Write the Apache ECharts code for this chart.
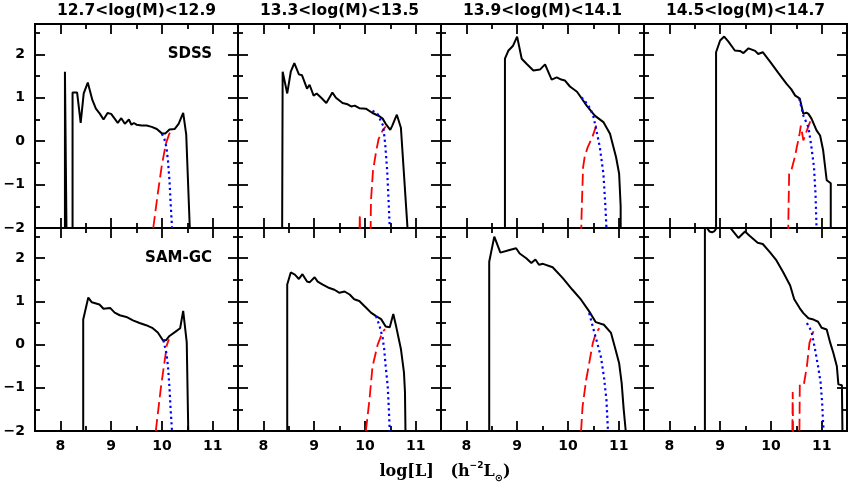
<!DOCTYPE html>
<html><head><meta charset="utf-8">
<script src="https://cdn.jsdelivr.net/npm/echarts@6/dist/echarts.min.js"></script>
<style>html,body{margin:0;padding:0;background:#fff}#c{width:849px;height:485px}</style>
</head><body><div id="c"></div>
<script>
// ---------- DATA ----------
const panelTitles = ['12.7<log(M)<12.9', '13.3<log(M)<13.5', '13.9<log(M)<14.1', '14.5<log(M)<14.7'];
const rowLabels = ['SDSS', 'SAM-GC'];
const xMajorTicks = [8, 9, 10, 11];
const xMinorTicks = [8.5, 9.5, 10.5];
const yMajorTicks = [-2, -1, 0, 1, 2];
const yMinorTicks = [-1.5, -0.5, 0.5, 1.5, 2.5];
const xRange = [7.5, 11.5];
const yRange = [-2, 2.7];

// SDSS row
const sdss1_total = [[8.09,-2],[8.09,1.6],[8.12,-2],[8.24,-2],[8.24,1.12],[8.33,1.12],[8.4,0.42],[8.46,1.1],[8.54,1.35],[8.63,0.95],[8.7,0.75],[8.78,0.63],[8.85,0.5],[8.93,0.65],[9.0,0.63],[9.07,0.52],[9.13,0.42],[9.2,0.53],[9.27,0.4],[9.35,0.5],[9.4,0.38],[9.45,0.42],[9.5,0.38],[9.6,0.36],[9.7,0.36],[9.8,0.33],[9.9,0.28],[10.0,0.18],[10.07,0.18],[10.15,0.27],[10.25,0.28],[10.33,0.4],[10.42,0.65],[10.48,0.15],[10.55,-2]];
const sdss1_red = [[9.83,-2],[9.92,-1.2],[10.0,-0.55],[10.08,-0.05],[10.14,0.15],[10.19,0.27]];
const sdss1_blue = [[10.0,0.17],[10.05,0.05],[10.09,-0.14],[10.12,-0.45],[10.15,-0.91],[10.17,-1.37],[10.2,-2]];

const sdss2_total = [[8.37,-2],[8.38,1.6],[8.47,1.1],[8.54,1.6],[8.61,1.8],[8.7,1.54],[8.76,1.52],[8.86,1.21],[8.91,1.3],[8.99,1.05],[9.05,1.1],[9.14,1.0],[9.24,0.88],[9.36,1.12],[9.43,1.0],[9.56,0.88],[9.66,0.85],[9.73,0.8],[9.8,0.82],[9.89,0.76],[10.02,0.75],[10.15,0.65],[10.28,0.58],[10.35,0.52],[10.41,0.4],[10.5,0.26],[10.54,0.36],[10.63,0.61],[10.71,0.31],[10.84,-2]];
const sdss2_red = [[9.89,-2.4],[9.9,-1.68],[9.91,-2.4],[10.11,-2.4],[10.12,-1.37],[10.16,-0.68],[10.22,-0.25],[10.27,0.05],[10.35,0.25],[10.41,0.34]];
const sdss2_blue = [[10.15,0.7],[10.25,0.63],[10.32,0.45],[10.36,0.36],[10.4,-0.06],[10.44,-0.68],[10.47,-1.44],[10.49,-2]];

const sdss3_total = [[8.76,-2],[8.76,1.9],[8.83,2.09],[8.92,2.2],[9.0,2.41],[9.09,1.9],[9.19,1.78],[9.32,1.63],[9.45,1.65],[9.55,1.77],[9.68,1.42],[9.78,1.47],[9.87,1.42],[9.94,1.4],[10.04,1.26],[10.18,1.14],[10.27,0.99],[10.37,0.82],[10.53,0.59],[10.7,0.44],[10.83,0.17],[10.95,-0.37],[11.01,-0.75],[11.04,-1.5],[11.04,-2]];
const sdss3_red = [[10.26,-2.2],[10.27,-1.7],[10.28,-1.3],[10.29,-0.95],[10.3,-0.6],[10.33,-0.37],[10.39,-0.14],[10.48,0.09],[10.56,0.36]];
const sdss3_blue = [[10.27,1.01],[10.38,0.86],[10.44,0.75],[10.5,0.58],[10.55,0.32],[10.63,-0.14],[10.7,-0.75],[10.74,-1.52],[10.76,-2]];

const sdss4_total = [[8.92,-2],[8.92,2.05],[9.0,2.32],[9.08,2.41],[9.16,2.3],[9.29,2.09],[9.39,2.08],[9.46,2.03],[9.56,2.14],[9.69,2.08],[9.75,2.01],[9.84,2.05],[9.98,1.84],[10.15,1.57],[10.31,1.32],[10.4,1.2],[10.48,1.05],[10.52,1.02],[10.57,0.98],[10.64,0.63],[10.7,0.66],[10.74,0.63],[10.8,0.52],[10.9,0.25],[10.97,0.13],[11.03,-0.21],[11.1,-0.9],[11.18,-0.97],[11.18,-2]];
const sdss4_red = [[10.34,-2.2],[10.345,-1.8],[10.35,-1.4],[10.355,-1.1],[10.36,-0.75],[10.41,-0.64],[10.48,-0.33],[10.51,-0.14],[10.56,0.13],[10.59,0.36],[10.64,0.02],[10.71,0.25],[10.77,0.44],[10.8,0.52]];
const sdss4_blue = [[10.56,0.98],[10.64,0.59],[10.74,0.32],[10.8,-0.14],[10.85,-0.6],[10.88,-1.21],[10.9,-2]];

// SAM-GC row
const sam1_total = [[8.45,-2],[8.45,0.58],[8.55,1.09],[8.62,0.98],[8.77,0.93],[8.85,0.83],[8.98,0.85],[9.07,0.74],[9.17,0.68],[9.3,0.64],[9.43,0.56],[9.56,0.5],[9.69,0.45],[9.82,0.38],[9.92,0.28],[10.02,0.1],[10.08,0.1],[10.15,0.2],[10.27,0.3],[10.36,0.38],[10.42,0.78],[10.49,0.05],[10.52,-2]];
const sam1_red = [[9.88,-2],[9.94,-1.4],[9.98,-1.0],[10.04,-0.5],[10.1,0.0],[10.14,0.12]];
const sam1_blue = [[10.03,0.1],[10.09,-0.2],[10.12,-0.5],[10.15,-1.0],[10.17,-1.45],[10.2,-2]];

const sam2_total = [[8.47,-2],[8.47,1.39],[8.54,1.67],[8.62,1.62],[8.7,1.52],[8.77,1.63],[8.86,1.46],[8.91,1.44],[9.01,1.56],[9.07,1.46],[9.17,1.39],[9.3,1.31],[9.4,1.27],[9.5,1.2],[9.6,1.23],[9.7,1.16],[9.79,1.05],[9.89,1.01],[10.02,0.86],[10.12,0.74],[10.22,0.66],[10.32,0.59],[10.41,0.42],[10.49,0.4],[10.56,0.71],[10.62,0.4],[10.71,-0.1],[10.77,-0.64],[10.79,-1.1],[10.8,-2]];
const sam2_red = [[10.02,-2],[10.09,-1.28],[10.15,-0.51],[10.25,-0.01],[10.35,0.3],[10.4,0.36]];
const sam2_blue = [[10.22,0.66],[10.29,0.43],[10.35,0.16],[10.38,-0.1],[10.41,-0.5],[10.45,-0.97],[10.47,-1.43],[10.49,-2]];

const sam3_total = [[8.45,-2],[8.45,1.92],[8.55,2.5],[8.67,2.13],[8.85,2.19],[8.98,2.23],[9.05,2.11],[9.18,2.0],[9.28,1.89],[9.36,1.97],[9.43,1.85],[9.51,1.87],[9.7,1.79],[9.9,1.54],[10.09,1.27],[10.26,1.04],[10.42,0.77],[10.55,0.52],[10.71,0.46],[10.85,0.27],[10.94,-0.12],[11.01,-0.43],[11.06,-0.89],[11.1,-1.5],[11.14,-2]];
const sam3_red = [[10.26,-2],[10.29,-1.43],[10.36,-0.82],[10.42,-0.43],[10.49,0.03],[10.55,0.26],[10.62,0.38]];
const sam3_blue = [[10.42,0.73],[10.49,0.42],[10.58,0.03],[10.65,-0.28],[10.71,-0.74],[10.76,-1.28],[10.79,-2]];

const sam4_total = [[8.7,-2],[8.7,2.95],[8.74,2.7],[8.79,2.62],[8.84,2.6],[8.89,2.63],[8.94,2.72],[9.05,2.88],[9.19,2.72],[9.36,2.47],[9.49,2.62],[9.58,2.52],[9.74,2.36],[9.84,2.33],[9.98,2.14],[10.11,1.95],[10.24,1.68],[10.38,1.37],[10.46,1.05],[10.57,0.84],[10.64,0.73],[10.74,0.61],[10.84,0.58],[10.93,0.53],[11.0,0.39],[11.1,0.35],[11.17,0.04],[11.23,-0.19],[11.3,-0.5],[11.33,-0.92],[11.4,-0.94],[11.41,-2]];
const sam4_red = [[10.42,-2.4],[10.43,-1.1],[10.44,-2.4],[10.56,-2.4],[10.57,-0.92],[10.65,-0.92],[10.71,-0.5],[10.76,0.04],[10.84,0.31]];
const sam4_blue = [[10.71,0.5],[10.8,0.31],[10.87,-0.11],[10.93,-0.5],[10.98,-0.88],[11.01,-1.34],[11.03,-1.84],[11.04,-2]];

// ---------- LAYOUT / STYLE ----------
const panels = [
  [sdss1_total, sdss1_red, sdss1_blue], [sdss2_total, sdss2_red, sdss2_blue],
  [sdss3_total, sdss3_red, sdss3_blue], [sdss4_total, sdss4_red, sdss4_blue],
  [sam1_total, sam1_red, sam1_blue], [sam2_total, sam2_red, sam2_blue],
  [sam3_total, sam3_red, sam3_blue], [sam4_total, sam4_red, sam4_blue]
];
const FONT = '"DejaVu Sans", sans-serif';
const colLeft = [35, 238, 441, 644], colW = 203;
const rowTop = [24, 228], rowH = [204, 203];
const MAJ = 10, MIN = 5;
const tickStyle = { color: '#000', width: 1.8 };
const labelStyle = { color: '#000', fontFamily: FONT, fontWeight: 'bold', fontSize: 14 };
const fmt = v => (v < 0 ? '\u2212' + Math.abs(v) : String(v));

const grids = [], xAxes = [], yAxes = [], series = [];
panels.forEach((pd, p) => {
  const r = Math.floor(p / 4), c = p % 4;
  grids.push({ left: colLeft[c], top: rowTop[r], width: colW, height: rowH[r], show: true,
    borderColor: '#000', borderWidth: 2, backgroundColor: 'transparent' });
  [['bottom', xMajorTicks, MAJ], ['bottom', xMinorTicks, MIN], ['top', xMajorTicks, MAJ], ['top', xMinorTicks, MIN]]
    .forEach(([pos, vals, len], k) => {
      xAxes.push({ gridIndex: p, type: 'value', min: xRange[0], max: xRange[1], position: pos,
        axisLine: { show: false, onZero: false },
        axisTick: { show: true, inside: true, length: len, customValues: vals, lineStyle: tickStyle },
        axisLabel: Object.assign({ show: r === 1 && k === 0, customValues: xMajorTicks, margin: 8 }, labelStyle),
        splitLine: { show: false } });
    });
  [['left', yMajorTicks, MAJ], ['left', yMinorTicks, MIN], ['right', yMajorTicks, MAJ], ['right', yMinorTicks, MIN]]
    .forEach(([pos, vals, len], k) => {
      yAxes.push({ gridIndex: p, type: 'value', min: yRange[0], max: yRange[1], position: pos,
        axisLine: { show: false, onZero: false },
        axisTick: { show: true, inside: true, length: len, customValues: vals, lineStyle: tickStyle },
        axisLabel: Object.assign({ show: c === 0 && k === 0, customValues: yMajorTicks, margin: 10, formatter: fmt }, labelStyle),
        splitLine: { show: false } });
    });
  const styles = [
    { color: '#000', width: 2, type: 'solid' },
    { color: '#ff0000', width: 1.8, type: [12, 5] },
    { color: '#0000ff', width: 2.2, type: [2.2, 3.3] }
  ];
  pd.forEach((d, s) => {
    series.push({ type: 'line', xAxisIndex: p * 4, yAxisIndex: p * 4, data: d,
      showSymbol: false, symbol: 'none', clip: true, lineStyle: styles[s], z: 3 + s, silent: true });
  });
});

const graphic = [];
panelTitles.forEach((t, i) => graphic.push({ type: 'text', x: colLeft[i] + colW / 2, y: 11,
  style: { text: t, align: 'center', verticalAlign: 'middle', font: 'bold 15.5px "DejaVu Sans"', fill: '#000' } }));
graphic.push({ type: 'text', x: 212, y: 54,
  style: { text: rowLabels[0], align: 'right', verticalAlign: 'middle', font: 'bold 15px "DejaVu Sans"', fill: '#000' } });
graphic.push({ type: 'text', x: 212, y: 258,
  style: { text: rowLabels[1], align: 'right', verticalAlign: 'middle', font: 'bold 15px "DejaVu Sans"', fill: '#000' } });
graphic.push({ type: 'text', x: 445, y: 472,
  style: { text: '{a|log[L]   (h}{s|\u22122}{a|L}{d|\u2299}{a|)}', align: 'center', verticalAlign: 'middle',
    rich: {
      a: { fontFamily: '"DejaVu Serif"', fontWeight: 'bold', fontSize: 16, lineHeight: 22, fill: '#000', verticalAlign: 'middle' },
      s: { fontFamily: '"DejaVu Sans"', fontWeight: 'bold', fontSize: 9, lineHeight: 9, fill: '#000', verticalAlign: 'top' },
      d: { fontFamily: '"DejaVu Sans"', fontWeight: 'bold', fontSize: 10, lineHeight: 10, fill: '#000', verticalAlign: 'bottom' }
    } } });

const chart = echarts.init(document.getElementById('c'), null, { renderer: 'canvas' });
chart.setOption({ animation: false, backgroundColor: '#fff', grid: grids, xAxis: xAxes, yAxis: yAxes, series, graphic });
</script></body></html>
